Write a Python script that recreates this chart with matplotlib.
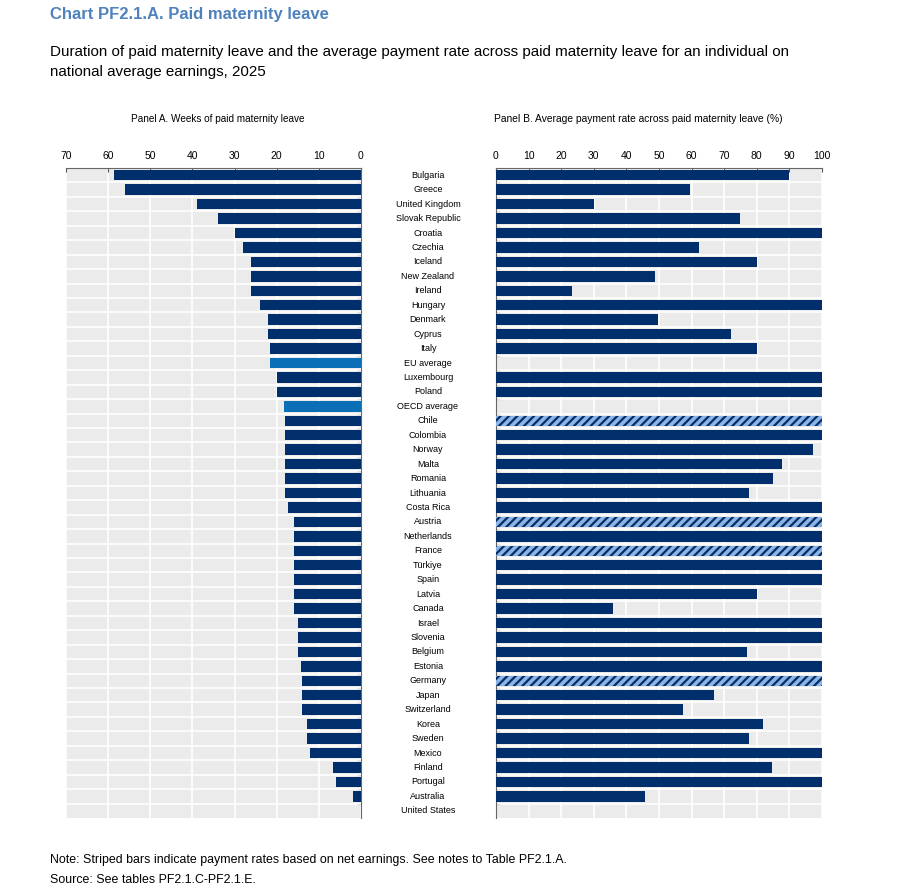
import matplotlib.pyplot as plt
import numpy as np

plt.rcParams['font.family'] = ['Liberation Sans Narrow', 'Liberation Sans', 'DejaVu Sans']
plt.rcParams['hatch.linewidth'] = 1.6

countries = ['Bulgaria', 'Greece', 'United Kingdom', 'Slovak Republic', 'Croatia', 'Czechia',
             'Iceland', 'New Zealand', 'Ireland', 'Hungary', 'Denmark', 'Cyprus', 'Italy',
             'EU average', 'Luxembourg', 'Poland', 'OECD average', 'Chile', 'Colombia', 'Norway',
             'Malta', 'Romania', 'Lithuania', 'Costa Rica', 'Austria', 'Netherlands', 'France',
             'Türkiye', 'Spain', 'Latvia', 'Canada', 'Israel', 'Slovenia', 'Belgium', 'Estonia',
             'Germany', 'Japan', 'Switzerland', 'Korea', 'Sweden', 'Mexico', 'Finland',
             'Portugal', 'Australia', 'United States']

weeks = [58.6, 56.0, 39.0, 34.0, 30.0, 28.0, 26.0, 26.0, 26.0, 24.0, 22.0, 22.0, 21.7,
         21.5, 20.0, 20.0, 18.3, 18.0, 18.0, 18.0, 18.0, 18.0, 18.0, 17.3, 16.0, 16.0, 16.0,
         16.0, 16.0, 16.0, 16.0, 15.0, 15.0, 15.0, 14.3, 14.0, 14.0, 14.0, 12.9, 12.9, 12.0,
         6.7, 6.0, 2.0, 0.0]

pay_rate = [90, 59.4, 30, 75, 100, 62.4, 80, 48.9, 23.2, 100, 49.6, 72, 80,
            np.nan, 100, 100, np.nan, 100, 100, 97.3, 87.8, 85, 77.5, 100, 100, 100, 100,
            100, 100, 80, 36, 100, 100, 77, 100, 100, 67, 57.4, 82, 77.5, 100, 84.8,
            100, 45.8, 0]

averages = ['EU average', 'OECD average']
net_based = ['Chile', 'Austria', 'France', 'Germany']

navy = '#002F6C'
avg_blue = '#0B6FB8'
light_blue = '#8DB4E2'
bg = '#EBEBEB'

fig = plt.figure(figsize=(9.03, 8.93), dpi=100)
W, H = 903, 893
top_px, bot_px = 168, 818
axA = fig.add_axes([66 / W, 1 - bot_px / H, (361 - 66) / W, (bot_px - top_px) / H])
axB = fig.add_axes([496 / W, 1 - bot_px / H, (822 - 496) / W, (bot_px - top_px) / H])

n = len(countries)
y = np.arange(n)

for ax in (axA, axB):
    ax.set_facecolor(bg)
    ax.set_ylim(n - 0.5, -0.5)
    for yy in np.arange(0.5, n - 1, 1):
        ax.axhline(yy, color='white', lw=1.2, zorder=1)
    ax.xaxis.tick_top()
    ax.tick_params(axis='x', length=3, direction='in', labelsize=7.5, pad=5, color='#555555')
    ax.grid(axis='x', color='white', lw=1.2, zorder=1)
    ax.set_axisbelow(True)
    ax.set_yticks(np.arange(0.5, n - 1, 1))
    ax.tick_params(axis='y', length=3, direction='in', labelleft=False, labelright=False,
                   color='#555555')
    ax.spines['bottom'].set_visible(False)
    for s in ax.spines.values():
        s.set_color('#666666')
        s.set_linewidth(0.8)

# Panel A
colsA = [avg_blue if c in averages else navy for c in countries]
axA.barh(y, weeks, height=0.72, color=colsA, zorder=3)
axA.set_xlim(70, 0)
axA.set_xticks(range(0, 80, 10))
axA.spines['left'].set_visible(False)
axA.yaxis.tick_right()
axA.tick_params(axis='y', labelright=False)

# Panel B
for i, c in enumerate(countries):
    v = pay_rate[i]
    if np.isnan(v):
        continue
    if c in net_based:
        axB.barh(i, v, height=0.72, color=light_blue, edgecolor=navy, hatch='////',
                 linewidth=0, zorder=3)
    else:
        axB.barh(i, v, height=0.72, color=navy, zorder=3)
axB.set_xlim(0, 100)
axB.set_xticks(range(0, 110, 10))
axB.spines['right'].set_visible(False)
axB.yaxis.tick_left()
axB.tick_params(axis='y', labelleft=False)

# country labels in the middle
for i, c in enumerate(countries):
    fy = top_px + (i + 0.5) * (bot_px - top_px) / n
    fig.text(428 / W, 1 - fy / H, c, ha='center', va='center', fontsize=6.5)

fig.text(218 / W, 1 - 119 / H, 'Panel A. Weeks of paid maternity leave', ha='center',
         va='center', fontsize=7.2)
fig.text(638 / W, 1 - 119 / H, 'Panel B. Average payment rate across paid maternity leave (%)',
         ha='center', va='center', fontsize=7.4)

fig.text(50 / W, 1 - 15 / H, 'Chart PF2.1.A. Paid maternity leave', color='#4F81BD',
         fontsize=12, fontweight='bold', va='center')
fig.text(50 / W, 1 - 52 / H, 'Duration of paid maternity leave and the average payment rate '
         'across paid maternity leave for an individual on', fontsize=10.9, va='center')
fig.text(50 / W, 1 - 72 / H, 'national average earnings, 2025', fontsize=10.9, va='center')

fig.text(50 / W, 1 - 860 / H, 'Note: Striped bars indicate payment rates based on net earnings. '
         'See notes to Table PF2.1.A.', fontsize=8.9, va='center')
fig.text(50 / W, 1 - 880 / H, 'Source: See tables PF2.1.C-PF2.1.E.', fontsize=8.9, va='center')

fig.savefig('out.png', dpi=100)
